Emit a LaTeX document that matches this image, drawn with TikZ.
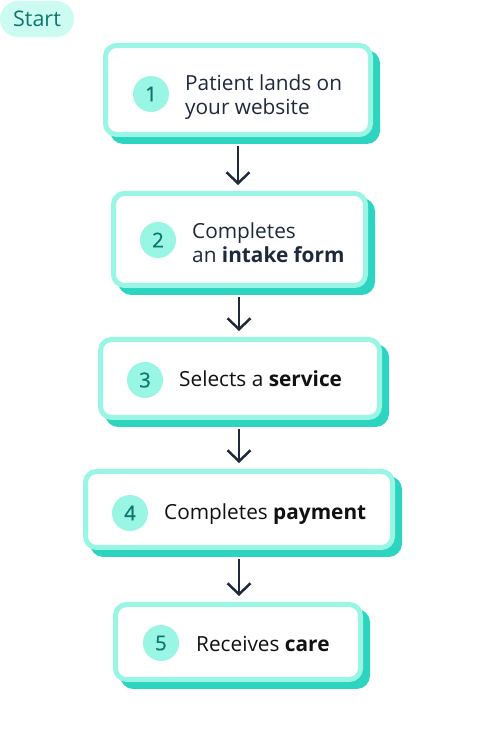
\documentclass[tikz,border=0pt]{standalone}
\usepackage{fontspec}
\setmainfont{Open Sans}
\newfontfamily\numfont{Open Sans}[FakeBold=0.5]
\usetikzlibrary{shadows,arrows.meta,calc}
\definecolor{tealA}{HTML}{99F6E4}
\definecolor{tealB}{HTML}{2DD4BF}
\definecolor{tealC}{HTML}{CCFBF1}
\definecolor{tealD}{HTML}{0F766E}
\definecolor{slateD}{HTML}{1E293B}
\definecolor{inkD}{HTML}{111111}
\begin{document}
\begin{tikzpicture}[x=1pt,y=1pt,
  card/.style={draw=tealA, line width=5pt, fill=white, rounded corners=11pt, inner sep=0pt,
    copy shadow={shadow xshift=7pt, shadow yshift=-7pt, fill=tealB, draw=tealB, line width=5pt}},
  num/.style={circle, fill=tealA, minimum size=36pt, inner sep=0pt, text=tealD, font=\numfont\fontsize{20.5}{24}\selectfont},
  lbl/.style={inner sep=0pt, align=left, font=\fontsize{20.8}{24}\selectfont},
  arr/.style={draw=slateD, line width=2.5pt, -{Straight Barb[length=11pt,width=23pt]}},
  pill/.style={fill=tealC, rounded corners=18pt, minimum width=74pt, minimum height=36pt, inner sep=0pt, text=tealD, font=\fontsize{21.5}{24}\selectfont}
]
\useasboundingbox (0,0) rectangle (479,737);
\node[pill] (start) at (37,718) {Start};

\node[card, minimum width=265pt, minimum height=89pt] (b1) at (238,647) {};
\node[card, minimum width=252pt, minimum height=92pt] (b2) at (239.5,497.5) {};
\node[card, minimum width=279pt, minimum height=78pt] (b3) at (240,358.5) {};
\node[card, minimum width=307pt, minimum height=76pt] (b4) at (239,227.5) {};
\node[card, minimum width=245pt, minimum height=75pt] (b5) at (238,95) {};

\node[num] (c1) at (151,643) {1};
\node[num] (c2) at (158,497) {2};
\node[num] (c3) at (145,357) {3};
\node[num] (c4) at (130,224) {4};
\node[num] (c5) at (161,94) {5};

\node[lbl, text=slateD, anchor=west] (t1) at (185,640) {Patient lands on\\your website};
\node[lbl, text=slateD, anchor=west] (t2) at (192,494) {Completes\\an \textbf{intake form}};
\node[lbl, text=inkD, anchor=base west] (t3) at (179,350) {Selects a \textbf{service}};
\node[lbl, text=inkD, anchor=base west] (t4) at (164,217) {Completes \textbf{payment}};
\node[lbl, text=inkD, anchor=base west] (t5) at (196,85) {Receives \textbf{care}};

\draw[arr] ($(b1.south)+(0,-9)$) -- ($(b1.south |- b2.north)+(0,6)$);
\draw[arr] ($(b2.south)+(-0.5,-9)$) -- ($(b2.south |- b3.north)+(-0.5,6)$);
\draw[arr] ($(b3.south)+(-1,-9)$) -- ($(b3.south |- b4.north)+(-1,6)$);
\draw[arr] ($(b4.south)+(0,-9)$) -- ($(b4.south |- b5.north)+(0,6)$);
\end{tikzpicture}
\end{document}
